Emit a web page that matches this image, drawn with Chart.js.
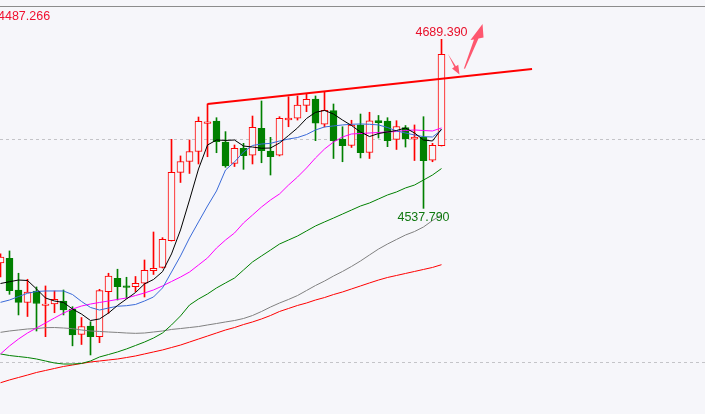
<!DOCTYPE html>
<html>
<head>
<meta charset="utf-8">
<script src="https://cdn.jsdelivr.net/npm/chart.js@4.4.0/dist/chart.umd.min.js"></script>
<style>
  html, body { margin: 0; padding: 0; background: #f6f6fa; overflow: hidden; }
  canvas { display: block; }
</style>
</head>
<body>
<canvas id="chart" width="705" height="414"></canvas>
<script>
// candle data (one candle every 9 px)
const open  = [4488.8,4493.0,4464.6,4453.4,4463.7,4450.7,4452.0,4454.7,4447.5,4424.8,4432.3,4422.7,4463.1,4475.1,4468.2,4467.5,4470.6,4481.8,4484.8,4508.8,4570.1,4579.8,4588.8,4613.9,4616.1,4597.3,4578.2,4591.7,4585.4,4609.6,4589.2,4585.4,4617.0,4618.6,4630.2,4635.9,4613.2,4625.4,4599.8,4594.2,4612.7,4587.9,4616.6,4616.1,4599.7,4610.3,4599.8,4601.5,4580.9,4594.0];
const high  = [4496.9,4499.6,4479.6,4474.2,4467.3,4468.2,4463.7,4464.6,4449.6,4439.9,4436.1,4465.2,4479.6,4483.2,4476.0,4476.7,4491.5,4516.6,4511.5,4599.7,4584.8,4599.1,4619.7,4631.4,4619.1,4606.6,4594.6,4596.1,4620.6,4634.1,4601.5,4620.0,4637.9,4638.6,4640.4,4638.6,4642.2,4631.4,4611.0,4616.8,4622.4,4624.0,4621.1,4619.1,4616.4,4612.1,4612.6,4620.0,4596.1,4689.39];
const low   = [4476.2,4460.7,4442.2,4440.8,4427.8,4422.7,4444.2,4442.2,4414.5,4415.7,4406.3,4417.3,4443.7,4455.6,4457.1,4463.1,4458.3,4478.5,4484.3,4508.5,4561.0,4569.1,4577.6,4584.1,4587.7,4574.6,4575.3,4572.8,4577.6,4578.7,4567.7,4584.8,4611.0,4617.0,4624.5,4598.5,4610.8,4582.5,4579.6,4592.4,4583.0,4582.5,4600.9,4593.1,4590.6,4592.8,4580.7,4537.79,4579.6,4593.7];
const close = [4494.2,4464.0,4453.5,4462.8,4452.5,4452.0,4456.1,4446.6,4424.2,4431.8,4422.7,4464.0,4477.1,4467.5,4466.8,4470.6,4482.2,4484.0,4510.0,4570.1,4579.8,4588.8,4615.9,4615.3,4597.6,4575.8,4591.7,4585.0,4610.5,4589.5,4584.1,4618.6,4618.8,4630.5,4635.6,4614.1,4625.8,4598.5,4594.0,4612.4,4587.7,4616.3,4614.6,4598.4,4611.2,4600.3,4601.8,4580.5,4594.4,4676.0];

// moving average lines
const maBlack   = [4470.4,4472.0,4473.5,4473.1,4465.5,4457.4,4454.7,4453.4,4447.5,4443.0,4437.2,4438.6,4443.9,4450.7,4456.5,4462.3,4470.0,4474.0,4481.0,4496.9,4518.4,4545.3,4573.1,4594.6,4599.1,4598.7,4599.1,4593.7,4592.8,4591.7,4591.9,4596.4,4603.1,4609.9,4618.4,4623.9,4625.6,4622.4,4617.0,4612.1,4606.3,4602.2,4604.9,4606.3,4607.6,4609.9,4605.4,4599.1,4598.2,4609.0];
const maBlue    = [4453.5,4455.6,4458.7,4461.6,4463.2,4463.7,4463.7,4463.7,4460.5,4454.3,4448.9,4446.6,4448.4,4450.0,4450.5,4451.6,4454.7,4458.3,4466.4,4480.7,4495.1,4511.2,4525.6,4539.9,4553.4,4572.2,4579.4,4588.3,4594.2,4595.5,4596.1,4598.2,4600.0,4601.3,4604.0,4608.1,4610.8,4611.7,4612.6,4613.2,4613.5,4613.2,4612.6,4610.3,4607.2,4605.4,4603.6,4602.1,4601.8,4608.1];
const maMagenta = [4407.2,4414.4,4420.6,4426.0,4430.5,4435.0,4439.5,4443.9,4447.5,4450.2,4452.0,4453.4,4454.7,4456.1,4457.4,4459.6,4461.9,4464.6,4468.2,4472.2,4476.2,4480.7,4487.0,4493.3,4502.2,4509.4,4515.7,4524.7,4531.8,4539.0,4545.3,4550.7,4558.7,4565.9,4574.0,4583.0,4591.0,4597.3,4601.8,4604.5,4604.9,4605.4,4605.8,4606.3,4606.7,4607.6,4608.1,4607.6,4607.2,4609.9];
const maGreen   = [4407.2,4405.8,4404.9,4404.0,4402.7,4400.9,4399.1,4398.2,4398.2,4398.7,4400.9,4404.5,4406.7,4409.0,4411.7,4414.8,4417.9,4421.5,4426.0,4433.2,4441.3,4451.1,4456.5,4461.0,4466.4,4470.9,4475.3,4482.5,4489.7,4495.1,4500.4,4505.8,4509.4,4513.0,4517.5,4522.0,4525.6,4529.1,4532.7,4536.3,4539.9,4542.6,4546.2,4549.8,4552.5,4556.1,4558.7,4563.2,4567.7,4573.5];
const maGray    = [4426.6,4427.8,4428.7,4429.6,4430.0,4430.8,4430.9,4430.5,4429.9,4428.7,4427.8,4427.4,4426.9,4426.5,4426.0,4425.7,4426.0,4426.9,4427.8,4429.2,4430.0,4430.9,4431.8,4433.2,4434.5,4435.9,4437.2,4439.0,4441.7,4445.3,4449.3,4452.9,4456.1,4459.6,4464.1,4468.6,4472.6,4477.1,4481.2,4485.7,4490.6,4496.0,4501.3,4505.8,4509.9,4513.9,4517.0,4521.1,4526.9,4531.8];
const maRed     = [4381.4,4383.9,4386.1,4388.3,4390.6,4392.4,4394.2,4396.0,4397.3,4398.7,4400.0,4400.9,4401.8,4402.7,4404.0,4405.4,4407.2,4409.0,4410.8,4413.0,4415.2,4417.9,4420.6,4423.3,4426.0,4428.7,4430.9,4433.6,4435.9,4438.6,4441.7,4445.3,4448.0,4450.7,4452.9,4455.6,4457.8,4460.5,4462.8,4465.5,4468.2,4470.9,4473.5,4475.8,4477.6,4479.4,4481.2,4483.0,4484.8,4487.266];

// high / low markers are taken over the recent candles only
const markFrom = 25;

// drawn trend line (candle index, price)
const trendX = [23, 59.06];
const trendY = [4631.4, 4662.8];

// dashed price levels
const gridLevels = [4600, 4400];

// hand drawn arrows, in (candle index, price)
const arrowSmall = [[49.72,4676.2],[50.60,4665.3],[50.86,4666.5],[51.0,4657.8],[50.17,4663.3],[50.42,4664.5]];
const arrowBig   = [[51.48,4663.0],[52.61,4689.2],[52.22,4688.8],[53.56,4703.1],[53.67,4691.0],[53.11,4690.1],[51.63,4663.2]];

const bg = '#f6f6fa';
const upColor = '#ff0000';
const downColor = '#008000';

const idx = open.map((_, i) => i);
const isUp = idx.map(i => close[i] >= open[i]);
const candleColor = idx.map(i => isUp[i] ? upColor : downColor);

function maSet(values, color) {
  return {
    type: 'line',
    data: values.map((v, i) => ({ x: i, y: v })),
    borderColor: color,
    borderWidth: 1,
    pointRadius: 0,
    tension: 0,
    order: 0
  };
}

const extras = {
  id: 'extras',
  beforeDatasetsDraw(chart) {
    const { ctx, scales: { y } } = chart;
    ctx.save();
    ctx.strokeStyle = '#c4c4c8';
    ctx.lineWidth = 1;
    ctx.setLineDash([3, 3]);
    gridLevels.forEach(v => {
      const py = Math.round(y.getPixelForValue(v)) + 0.5;
      ctx.beginPath();
      ctx.moveTo(0, py);
      ctx.lineTo(chart.width, py);
      ctx.stroke();
    });
    ctx.restore();
  },
  afterDatasetsDraw(chart) {
    const { ctx, scales: { x, y } } = chart;
    ctx.save();
    // panel top border
    ctx.fillStyle = '#8c8c8c';
    ctx.fillRect(0, 6, chart.width, 1);

    // arrows
    ctx.fillStyle = 'rgba(255,70,95,0.9)';
    [arrowSmall, arrowBig].forEach(shape => {
      ctx.beginPath();
      shape.forEach(([a, b], k) => {
        const px = x.getPixelForValue(a), py = y.getPixelForValue(b);
        if (k === 0) ctx.moveTo(px, py); else ctx.lineTo(px, py);
      });
      ctx.closePath();
      ctx.fill();
    });

    ctx.font = '12.5px "Liberation Sans", Arial, sans-serif';
    // highest high / lowest low labels of the recent candles
    const recentHigh = high.slice(markFrom), recentLow = low.slice(markFrom);
    const hi = markFrom + recentHigh.indexOf(Math.max(...recentHigh));
    const lo = markFrom + recentLow.indexOf(Math.min(...recentLow));
    ctx.textAlign = 'center';
    ctx.fillStyle = '#e8102a';
    ctx.fillText(high[hi].toFixed(3), x.getPixelForValue(hi), y.getPixelForValue(high[hi]) - 3);
    ctx.fillStyle = '#107810';
    ctx.fillText(low[lo].toFixed(3), x.getPixelForValue(lo), y.getPixelForValue(low[lo]) + 13);

    // last value of the red average, top left
    ctx.textAlign = 'left';
    ctx.fillStyle = '#f01030';
    ctx.fillText(maRed[maRed.length - 1].toFixed(3), -2, 20);
    ctx.restore();
  }
};

new Chart(document.getElementById('chart'), {
  type: 'bar',
  data: {
    datasets: [
      {
        type: 'line',
        data: trendX.map((v, i) => ({ x: v, y: trendY[i] })),
        borderColor: '#ff0000',
        borderWidth: 2,
        pointRadius: 0,
        order: -1
      },
      maSet(maBlack, '#000000'),
      maSet(maBlue, '#3a6ad8'),
      maSet(maMagenta, '#ff00ff'),
      maSet(maGreen, '#008000'),
      maSet(maGray, '#808080'),
      maSet(maRed, '#ff0000'),
      {
        data: idx.map(i => ({ x: i, y: [open[i], close[i]] })),
        backgroundColor: idx.map(i => isUp[i] ? bg : downColor),
        borderColor: candleColor,
        borderWidth: 1,
        borderSkipped: false,
        barThickness: 7,
        grouped: false,
        order: 1
      },
      {
        data: idx.map(i => ({ x: i, y: [low[i], high[i]] })),
        backgroundColor: candleColor,
        borderWidth: 0,
        barThickness: 1,
        grouped: false,
        order: 2
      }
    ]
  },
  options: {
    responsive: false,
    animation: false,
    devicePixelRatio: 1,
    layout: { padding: 0 },
    plugins: { legend: { display: false }, tooltip: { enabled: false } },
    scales: {
      x: { type: 'linear', min: -0.5 / 9, max: -0.5 / 9 + 705 / 9, offset: false, display: false },
      y: { type: 'linear', min: 4353.36, max: 4724.66, display: false }
    }
  },
  plugins: [extras]
});
</script>
</body>
</html>
